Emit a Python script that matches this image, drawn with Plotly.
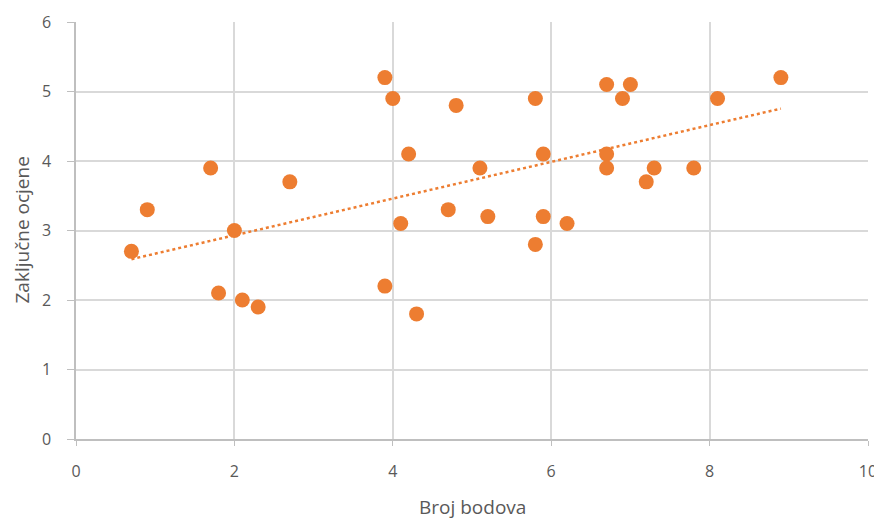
import numpy as np
import plotly.graph_objects as go

broj_bodova = [0.7, 0.9, 1.7, 1.8, 2.0, 2.1, 2.3, 2.7, 3.9, 4.0, 4.2, 4.1, 3.9, 4.3,
               4.8, 4.7, 5.1, 5.2, 5.8, 5.9, 5.9, 5.8, 6.2, 6.7, 6.9, 7.0, 6.7, 6.7,
               7.2, 7.3, 7.8, 8.1, 8.9]
zakljucne_ocjene = [2.7, 3.3, 3.9, 2.1, 3.0, 2.0, 1.9, 3.7, 5.2, 4.9, 4.1, 3.1, 2.2, 1.8,
                    4.8, 3.3, 3.9, 3.2, 4.9, 4.1, 3.2, 2.8, 3.1, 5.1, 4.9, 5.1, 4.1, 3.9,
                    3.7, 3.9, 3.9, 4.9, 5.2]
x_ticks = [0, 2, 4, 6, 8, 10]
y_ticks = [0, 1, 2, 3, 4, 5, 6]
x_title = "Broj bodova"
y_title = "Zaključne ocjene"

orange = "#ED7D31"
grid = "#D9D9D9"
txt = "#595959"

x = np.array(broj_bodova)
y = np.array(zakljucne_ocjene)
slope, intercept = np.polyfit(x, y, 1)
tx = np.array([x.min(), x.max()])
ty = slope * tx + intercept

fig = go.Figure()
fig.add_trace(go.Scatter(
    x=tx, y=ty, mode="lines",
    line=dict(color=orange, width=2.5, dash="dot"),
    hoverinfo="skip", showlegend=False))
fig.add_trace(go.Scatter(
    x=broj_bodova, y=zakljucne_ocjene, mode="markers",
    marker=dict(color=orange, size=15, line=dict(width=0)),
    showlegend=False))

font = "Open Sans, Liberation Sans, sans-serif"
fig.update_layout(
    width=874, height=512,
    margin=dict(l=68, r=14, t=14, b=81),
    paper_bgcolor="white", plot_bgcolor="white",
    font=dict(family=font, color=txt, size=16),
    annotations=[
        dict(text=x_title, xref="paper", yref="paper", x=0.5, y=0,
             xanchor="center", yanchor="middle", yshift=-68, showarrow=False,
             font=dict(size=19, color=txt)),
        dict(text=y_title, xref="paper", yref="paper", x=0, y=0.5,
             xanchor="center", yanchor="middle", xshift=-55, textangle=-90,
             showarrow=False, font=dict(size=19, color=txt)),
    ],
)
fig.update_xaxes(
    range=[0, 10], tickvals=x_ticks, showgrid=True, gridcolor=grid, gridwidth=1.5,
    zeroline=False, showline=True, linecolor="#BFBFBF", linewidth=1.5,
    ticks="outside", ticklen=5, tickcolor="#BFBFBF", ticklabelstandoff=12,
    tickfont=dict(size=16, color=txt), automargin=False,
)
fig.update_yaxes(
    range=[0, 6], tickvals=y_ticks, showgrid=True, gridcolor=grid, gridwidth=1.5,
    zeroline=False, showline=True, linecolor="#BFBFBF", linewidth=1.5,
    ticks="outside", ticklen=7, tickcolor="#BFBFBF", ticklabelstandoff=13,
    tickfont=dict(size=16, color=txt), automargin=False,
)

fig.write_html("out.html")
